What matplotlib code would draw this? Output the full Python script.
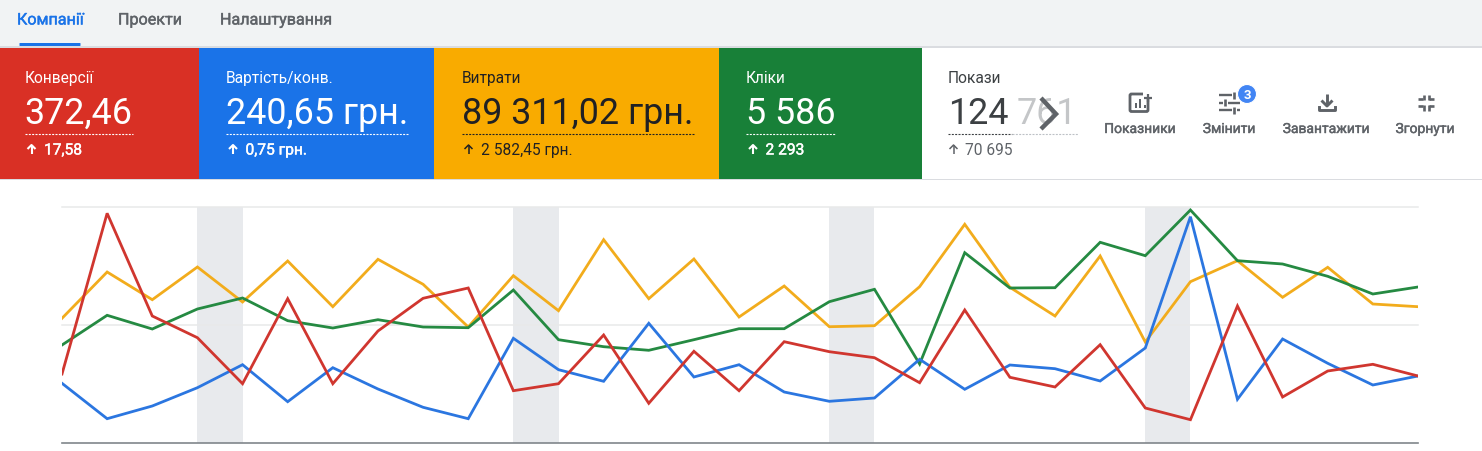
import matplotlib
matplotlib.use("Agg")
import matplotlib.pyplot as plt
import matplotlib.patheffects as pe
from matplotlib.patches import Rectangle, Circle, FancyBboxPatch

plt.rcParams['font.family'] = ['Roboto', 'DejaVu Sans']

conversions = [69, 229.7, 127, 105.3, 59.3, 144.3, 59.3, 112, 144.7, 155, 52.3,
               59.3, 108, 39.7, 91.7, 52.3, 101.3, 91.3, 85.3, 60.3, 133,
               65.7, 56, 98.3, 35, 23.3, 137, 46, 72, 78.7, 67]
cost_per_conv = [59.7, 24.3, 37, 55.3, 78.3, 41.3, 75.3, 54, 35.7, 24.3, 104.7,
                 73.3, 61.7, 119.7, 66, 78.3, 51, 41.7, 45, 83.7, 53.7,
                 78, 74.3, 62, 95, 226.3, 43.7, 104, 79.7, 58, 67]
costs = [124.7, 171, 143.3, 176, 141, 182, 136.3, 183.7, 158.7, 116, 167.3,
         132.3, 203.3, 144.3, 184, 126, 157, 116.3, 117.3, 156.3, 218.7,
         155.7, 127, 187, 101, 161.3, 182.3, 145.7, 175.7, 139, 136.3]
clicks = [98, 127.7, 114, 134, 145, 122.3, 115, 123.3, 116, 115.3, 153,
          103.3, 96.3, 92.7, 103.3, 114.3, 114.3, 141.3, 153.7, 79, 190.3,
          155, 155.3, 200.7, 187.3, 233, 182.3, 179, 166.7, 149, 156]
# hours since the first day; the clock change makes day 25 one hour longer
hours = [0, 24, 48, 72, 96, 120, 144, 168, 192, 216, 240,
         264, 288, 312, 336, 360, 384, 408, 432, 456, 480,
         504, 528, 552, 576, 600, 625, 649, 673, 697, 721]
weekend_starts = [3, 10, 17, 24]
grid_values = [118, 236]

tabs = ["Компанії", "Проекти", "Налаштування"]
card_titles = ["Конверсії", "Вартість/конв.", "Витрати", "Кліки"]
card_values = ["372,46", "240,65 грн.", "89 311,02 грн.", "5 586"]
card_deltas = ["17,58", "0,75 грн.", "2 582,45 грн.", "2 293"]
tool_labels = ["Показники", "Змінити", "Завантажити", "Згорнути"]

RED, BLUE, YELLOW, GREEN = "#d93025", "#1a73e8", "#f9ab00", "#188038"
LINE_RED, LINE_BLUE, LINE_YELLOW, LINE_GREEN = "#d0362f", "#2b76e0", "#f2ac1c", "#258a42"
GREY = "#5f6368"


def medium(col):
    # Roboto only comes regular or bold here, so thicken the regular a little
    return [pe.withStroke(linewidth=0.3, foreground=col)]


def up_arrow(x, col, lw):
    ui.plot([x, x], [146, 155], color=col, lw=lw, solid_capstyle="butt")
    ui.plot([x - 4, x, x + 4], [150, 146, 150], color=col, lw=lw, solid_capstyle="butt")


fig = plt.figure(figsize=(14.82, 4.52), dpi=100, facecolor="white")

# page furniture, in pixel coordinates
ui = fig.add_axes([0, 0, 1, 1])
ui.set_xlim(0, 1482)
ui.set_ylim(452, 0)
ui.axis("off")

ui.add_patch(Rectangle((0, 0), 1482, 47, fc="#f1f3f4", ec="none"))
ui.add_patch(Rectangle((0, 47), 1482, 2, fc="#dadce0", ec="none"))
ui.add_patch(Rectangle((0, 180), 1482, 1, fc="#dadce0", ec="none"))

for label, x, col in zip(tabs, [17, 118, 220], [BLUE, GREY, GREY]):
    ui.text(x, 21, label, fontsize=11.6, color=col, va="center", ha="left", path_effects=medium(col))
ui.add_patch(FancyBboxPatch((20, 44.5), 60, 2, boxstyle="round,pad=0.5", fc=BLUE, ec="none"))

# metric cards
card_edges = [0, 199, 434, 719, 922]
card_colors = [RED, BLUE, YELLOW, GREEN]
text_colors = ["white", "white", "#202124", "white"]
rule_widths = [108, 182, 232, 90]
text_left = [24.5, 226, 461.5, 746]
for i in range(4):
    left = card_edges[i]
    ui.add_patch(Rectangle((left, 49), card_edges[i + 1] - left, 131, fc=card_colors[i], ec="none"))
    tx = text_left[i]
    col = text_colors[i]
    ui.text(tx, 78.5, card_titles[i], fontsize=11.2, color=col, va="center", ha="left")
    ui.text(tx, 114, card_values[i], fontsize=25.8, color=col, va="center", ha="left")
    ui.plot([tx, tx + rule_widths[i]], [134.5, 134.5], color=col, lw=0.8, dashes=(1.8, 1.2))
    up_arrow(tx + 7, col, 1.5 if i != 2 else 1.1)
    ui.text(tx + 19.5, 151, card_deltas[i], fontsize=11.2, color=col, va="center", ha="left",
            path_effects=medium(col) if i != 2 else None)

# impressions card, cut off by the chevron
ui.text(948, 78.5, "Покази", fontsize=11.2, color="#3c4043", va="center", ha="left")
ui.text(948, 114, "124", fontsize=25.8, color="#3c4043", va="center", ha="left")
ui.text(1017, 114, "761", fontsize=25.8, color="#c4c6c8", va="center", ha="left")
ui.plot([948, 1012], [134.5, 134.5], color="#3c4043", lw=0.8, dashes=(1.8, 1.2))
ui.plot([1012, 1078], [134.5, 134.5], color="#bdc1c6", lw=0.8, dashes=(1.8, 1.2))
up_arrow(953.5, GREY, 1.1)
ui.text(965, 151, "70 695", fontsize=11.2, color=GREY, va="center", ha="left")
ui.plot([1041, 1056, 1041], [99, 115, 130], color=GREY, lw=3.2, solid_joinstyle="miter",
        solid_capstyle="butt", zorder=6)

# toolbar labels
for label, x in zip(tool_labels, [1140, 1229, 1326, 1425]):
    ui.text(x, 130, label, fontsize=10, color=GREY, va="center", ha="center", path_effects=medium(GREY))

# metrics icon
ui.add_patch(FancyBboxPatch((1130, 95), 18, 17.5, boxstyle="round,pad=0,rounding_size=1.5",
                            fc="none", ec=GREY, lw=2))
ui.add_patch(Rectangle((1142.5, 90), 10.5, 9, fc="white", ec="none", zorder=3))
for bx, btop in zip([1134.5, 1139, 1143.5], [104, 100, 106]):
    ui.add_patch(Rectangle((bx, btop), 2, 109 - btop, fc=GREY, ec="none", zorder=4))
ui.plot([1144, 1152], [98.5, 98.5], color=GREY, lw=1.6, zorder=4, solid_capstyle="butt")
ui.plot([1148, 1148], [94.5, 102.5], color=GREY, lw=1.6, zorder=4, solid_capstyle="butt")

# sliders icon
slider_rows = [96, 103.5, 111]
slider_knobs = [1234, 1225, 1234]
for ky, kx in zip(slider_rows, slider_knobs):
    ui.plot([1219, kx - 2.5], [ky, ky], color=GREY, lw=1.7, solid_capstyle="butt")
    ui.plot([kx + 2.5, 1240], [ky, ky], color=GREY, lw=1.7, solid_capstyle="butt")
    ui.plot([kx, kx], [ky - 3.5, ky + 3.5], color=GREY, lw=1.9, solid_capstyle="butt")
ui.add_patch(Circle((1247, 95), 9.5, fc="#4285f4", ec="white", lw=0.8, zorder=5))
ui.text(1247, 95.5, "3", fontsize=9.5, color="white", va="center", ha="center", weight="bold", zorder=6)

# download icon
ui.plot([1327, 1327], [95, 106], color=GREY, lw=2.1, solid_capstyle="butt")
ui.plot([1321.5, 1327, 1332.5], [101.5, 107, 101.5], color=GREY, lw=2.1, solid_capstyle="butt")
ui.plot([1319, 1319, 1335, 1335], [108, 111, 111, 108], color=GREY, lw=2.1, solid_joinstyle="round")

# collapse icon
for sx, sy in zip([-1, 1, -1, 1], [-1, -1, 1, 1]):
    cx, cy = 1426 + sx * 2.5, 103.5 + sy * 3.5
    ui.plot([cx + sx * 0.8, cx + sx * 5.5], [cy, cy], color=GREY, lw=1.9, solid_capstyle="butt")
    ui.plot([cx, cx], [cy + sy * -0.8, cy + sy * 4.5], color=GREY, lw=1.9, solid_capstyle="butt")

# line chart
ax = fig.add_axes([62 / 1482, (452 - 444) / 452, (1418 - 62) / 1482, 236 / 452])
ax.patch.set_alpha(0)
for start in weekend_starts:
    ax.axvspan(hours[start], hours[start + 1], color="#e8eaed", lw=0, zorder=1)
for g in grid_values:
    ax.axhline(g, color="#e8e9ea", lw=1.1, zorder=2, clip_on=False)
ax.plot(hours, costs, color=LINE_YELLOW, lw=2.0, zorder=3, solid_joinstyle="miter")
ax.plot(hours, clicks, color=LINE_GREEN, lw=2.0, zorder=4, solid_joinstyle="miter")
ax.plot(hours, cost_per_conv, color=LINE_BLUE, lw=2.0, zorder=5, solid_joinstyle="miter")
ax.plot(hours, conversions, color=LINE_RED, lw=2.0, zorder=6, solid_joinstyle="miter")
ax.set_xlim(hours[0], hours[-1])
ax.set_ylim(0, 236)
ax.set_xticks([])
ax.set_yticks([])
for side in ["top", "left", "right"]:
    ax.spines[side].set_visible(False)
ax.spines["bottom"].set_color("#80868b")
ax.spines["bottom"].set_linewidth(1.2)

fig.savefig("out.png", dpi=100)
